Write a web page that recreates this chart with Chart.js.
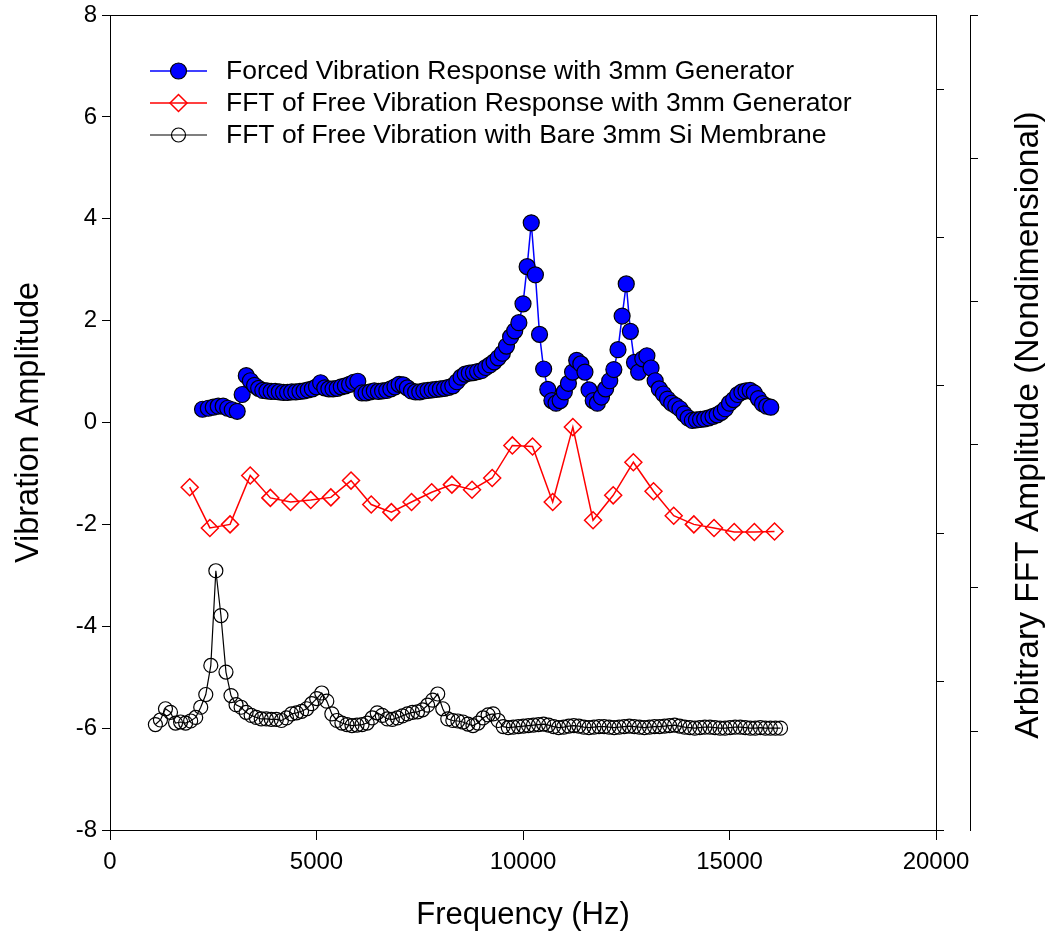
<!DOCTYPE html>
<html>
<head>
<meta charset="utf-8">
<title>Vibration Amplitude</title>
<script src="https://cdn.jsdelivr.net/npm/chart.js@4.4.1/dist/chart.umd.min.js"></script>
<style>
  body { margin: 0; background: #fff; }
</style>
</head>
<body>
<canvas id="myChart" width="1049" height="938"></canvas>
<script>
var seriesNames = [
  'Forced Vibration Response with 3mm Generator',
  'FFT of Free Vibration Response with 3mm Generator',
  'FFT of Free Vibration with Bare 3mm Si Membrane'
];

var forcedFreq = [2240, 2380, 2500, 2620, 2740, 2850, 2960, 3080,
  3200, 3300, 3400, 3500, 3600, 3700, 3800, 3900, 4000, 4100, 4200, 4300, 4400, 4500, 4600, 4700, 4800, 4900,
  5000, 5100, 5200, 5300, 5400, 5500, 5600, 5700, 5800, 5900, 6000, 6100, 6200, 6300, 6400, 6500, 6600, 6700, 6800, 6900,
  7000, 7100, 7200, 7300, 7400, 7500, 7600, 7700, 7800, 7900, 8000, 8100, 8200, 8300, 8400, 8500, 8600, 8700, 8800, 8900,
  9000, 9100, 9200, 9300, 9400, 9500, 9600, 9700, 9800, 9900, 10000, 10100, 10200, 10300, 10400, 10500, 10600, 10700, 10800, 10900,
  11000, 11100, 11200, 11300, 11400, 11500, 11600, 11700, 11800, 11900, 12000, 12100, 12200, 12300, 12400, 12500, 12600, 12700, 12800, 12900,
  13000, 13100, 13200, 13300, 13400, 13500, 13600, 13700, 13800, 13900, 14000, 14100, 14200, 14300, 14400, 14500, 14600, 14700, 14800, 14900,
  15000, 15100, 15200, 15300, 15400, 15500, 15600, 15700, 15800, 15900, 16000];
var forcedAmp = [0.26, 0.28, 0.30, 0.32, 0.32, 0.28, 0.25, 0.22,
  0.55, 0.92, 0.82, 0.73, 0.67, 0.63, 0.62, 0.61, 0.61, 0.60, 0.59, 0.59, 0.60, 0.60, 0.61, 0.62, 0.64, 0.66,
  0.70, 0.78, 0.68, 0.66, 0.66, 0.67, 0.70, 0.72, 0.75, 0.79, 0.81, 0.58, 0.58, 0.60, 0.62, 0.61, 0.62, 0.63, 0.66, 0.70,
  0.75, 0.74, 0.68, 0.62, 0.60, 0.60, 0.62, 0.63, 0.64, 0.65, 0.66, 0.67, 0.69, 0.72, 0.80, 0.89, 0.95, 0.97, 0.98, 1.00,
  1.02, 1.08, 1.13, 1.19, 1.27, 1.36, 1.50, 1.68, 1.80, 1.96, 2.33, 3.06, 3.92, 2.90, 1.73, 1.05, 0.65, 0.43, 0.38, 0.43,
  0.60, 0.77, 0.99, 1.22, 1.15, 0.99, 0.64, 0.43, 0.38, 0.50, 0.66, 0.82, 1.04, 1.43, 2.09, 2.72, 1.79, 1.18, 0.99, 1.25,
  1.31, 1.07, 0.82, 0.66, 0.56, 0.46, 0.38, 0.33, 0.27, 0.17, 0.09, 0.04, 0.05, 0.06, 0.07, 0.09, 0.12, 0.15, 0.20, 0.27,
  0.38, 0.45, 0.55, 0.60, 0.62, 0.63, 0.58, 0.47, 0.37, 0.32, 0.30];

var genFreq = [1930, 2418, 2907, 3395, 3883, 4371, 4860, 5348, 5836, 6325, 6813, 7301, 7789, 8278, 8766,
  9254, 9742, 10231, 10719, 11207, 11696, 12184, 12672, 13160, 13649, 14137, 14625, 15114, 15602, 16090];
var genAmp = [-1.27, -2.07, -2.00, -1.04, -1.48, -1.56, -1.52, -1.47, -1.14, -1.61, -1.76, -1.56, -1.37, -1.22, -1.32,
  -1.09, -0.45, -0.47, -1.56, -0.09, -1.92, -1.43, -0.78, -1.35, -1.83, -2.00, -2.07, -2.15, -2.15, -2.14];

var bareFreq = [1099, 1221, 1343, 1465, 1587, 1709, 1831, 1953, 2075, 2197, 2319, 2441, 2563, 2686, 2808, 2930,
  3052, 3174, 3296, 3418, 3540, 3662, 3784, 3906, 4028, 4150, 4272, 4395, 4517, 4639, 4761, 4883,
  5005, 5127, 5249, 5371, 5493, 5615, 5737, 5859, 5981, 6104, 6226, 6348, 6470, 6592, 6714, 6836, 6958,
  7080, 7202, 7324, 7446, 7568, 7690, 7813, 7935, 8057, 8179, 8301, 8423, 8545, 8667, 8789, 8911,
  9033, 9155, 9277, 9399, 9521, 9644, 9766, 9888, 10010, 10132, 10254, 10376, 10498, 10620, 10742, 10864, 10986,
  11108, 11230, 11353, 11475, 11597, 11719, 11841, 11963, 12085, 12207, 12329, 12451, 12573, 12695, 12817, 12939,
  13062, 13184, 13306, 13428, 13550, 13672, 13794, 13916, 14038, 14160, 14282, 14404, 14526, 14648, 14771, 14893,
  15015, 15137, 15259, 15381, 15503, 15625, 15747, 15869, 15991, 16113, 16235];
var bareAmp = [-5.93, -5.84, -5.62, -5.69, -5.90, -5.88, -5.90, -5.86, -5.79, -5.59, -5.34, -4.77, -2.91, -3.79, -4.90, -5.36,
  -5.54, -5.59, -5.69, -5.75, -5.79, -5.82, -5.82, -5.83, -5.83, -5.85, -5.80, -5.72, -5.70, -5.67, -5.62, -5.52,
  -5.42, -5.31, -5.47, -5.72, -5.85, -5.90, -5.93, -5.95, -5.94, -5.93, -5.90, -5.80, -5.70, -5.75, -5.82, -5.83, -5.80,
  -5.76, -5.72, -5.69, -5.68, -5.64, -5.55, -5.45, -5.33, -5.62, -5.82, -5.85, -5.86, -5.88, -5.92, -5.95, -5.90,
  -5.80, -5.74, -5.72, -5.85, -5.97, -5.99, -5.98, -5.97, -5.96, -5.95, -5.94, -5.93, -5.92, -5.94, -5.97, -5.99, -5.98,
  -5.96, -5.95, -5.96, -5.98, -5.99, -5.98, -5.97, -5.97, -5.98, -5.99, -5.98, -5.97, -5.96, -5.97, -5.98, -5.99,
  -5.98, -5.97, -5.97, -5.96, -5.95, -5.94, -5.96, -5.98, -5.99, -6.00, -5.99, -5.98, -5.98, -5.99, -6.00, -6.00,
  -5.99, -5.98, -5.98, -5.99, -6.00, -6.00, -5.99, -6.00, -6.00, -6.00, -6.00];

var xTickLabels = ['0', '5000', '10000', '15000', '20000'];
var yTickLabels = ['-8', '-6', '-4', '-2', '0', '2', '4', '6', '8'];
var rightTickValues = [0, 1, 2, 3, 4, 5];
var xTitle = 'Frequency (Hz)';
var yTitle = 'Vibration Amplitude';
var rightTitle = 'Arbitrary FFT Amplitude (Nondimensional)';

var fontFamily = '"Liberation Sans", Arial, sans-serif';

function toPoints(xs, ys)
{
  var pts = [];
  for (var i = 0; i < xs.length; i++) {
    pts.push({x: xs[i], y: ys[i]});
  }
  return pts;
}

function setRightTicks(scale)
{
  scale.ticks = rightTickValues.map(function(v){ return {value: v}; });
}

// legend sits inside the plot, line + marker + text
var insideLegend = {
  id: 'insideLegend',
  afterDraw: function(chart) {
    var ctx = chart.ctx;
    var area = chart.chartArea;
    ctx.save();
    chart.data.datasets.forEach(function(ds, i){
      var y = area.top + 56 + i * 32;
      var x0 = area.left + 40;
      ctx.strokeStyle = ds.borderColor;
      ctx.lineWidth = ds.borderWidth;
      ctx.beginPath();
      ctx.moveTo(x0, y);
      ctx.lineTo(x0 + 57, y);
      ctx.stroke();
      ctx.fillStyle = ds.pointBackgroundColor;
      ctx.strokeStyle = ds.pointBorderColor;
      ctx.lineWidth = ds.pointBorderWidth;
      Chart.helpers.drawPoint(ctx, {pointStyle: ds.pointStyle, radius: ds.pointRadius, borderWidth: ds.pointBorderWidth, rotation: 0}, x0 + 28.5, y);
      ctx.fillStyle = '#000';
      ctx.font = '26.5px ' + fontFamily;
      ctx.textBaseline = 'middle';
      ctx.textAlign = 'left';
      ctx.fillText(ds.label, x0 + 76, y + 1);
    });
    ctx.restore();
  }
};

// frame top and the far right axis title (reads bottom to top)
var frameAndTitle = {
  id: 'frameAndTitle',
  afterDraw: function(chart) {
    var ctx = chart.ctx;
    var area = chart.chartArea;
    ctx.save();
    ctx.strokeStyle = '#000';
    ctx.lineWidth = 1;
    ctx.beginPath();
    ctx.moveTo(area.left, area.top + 0.5);
    ctx.lineTo(area.right, area.top + 0.5);
    ctx.stroke();
    ctx.translate(1029, 425);
    ctx.rotate(-Math.PI / 2);
    ctx.fillStyle = '#000';
    ctx.font = '33.5px ' + fontFamily;
    ctx.textAlign = 'center';
    ctx.textBaseline = 'middle';
    ctx.fillText(rightTitle, 0, 0);
    ctx.restore();
  }
};

function fitLeft(s)
{
  s.width = 110;
  s.paddingTop = 0;
  s.paddingBottom = 0;
}

function showGraph()
{
  var ctx = document.getElementById('myChart').getContext('2d');
  Chart.defaults.font.family = fontFamily;
  Chart.defaults.color = '#000';

  var chart = new Chart(ctx, {
    type: 'line',
    data: {
      datasets: [{
        label: seriesNames[0],
        data: toPoints(forcedFreq, forcedAmp),
        borderColor: '#0000ff',
        borderWidth: 1.5,
        pointStyle: 'circle',
        pointRadius: 8,
        pointBackgroundColor: '#0000ff',
        pointBorderColor: '#000',
        pointBorderWidth: 1.2,
        fill: false
      }, {
        label: seriesNames[1],
        data: toPoints(genFreq, genAmp),
        borderColor: '#ff0000',
        borderWidth: 1.5,
        pointStyle: 'rectRot',
        pointRadius: 8.5,
        pointBackgroundColor: 'rgba(0,0,0,0)',
        pointBorderColor: '#ff0000',
        pointBorderWidth: 1.5,
        fill: false
      }, {
        label: seriesNames[2],
        data: toPoints(bareFreq, bareAmp),
        borderColor: '#000',
        borderWidth: 1.2,
        pointStyle: 'circle',
        pointRadius: 7,
        pointBackgroundColor: 'rgba(0,0,0,0)',
        pointBorderColor: '#000',
        pointBorderWidth: 1.2,
        fill: false
      }]
    },
    options: {
      responsive: false,
      animation: false,
      devicePixelRatio: 1,
      layout: {padding: {top: 15, left: 0, right: 0, bottom: 0}},
      plugins: {legend: {display: false}, tooltip: {enabled: false}},
      elements: {line: {tension: 0}},
      scales: {
        x: {
          type: 'linear',
          position: 'bottom',
          min: 0, max: 20000,
          afterFit: function(s){ s.height = 108; },
          ticks: {stepSize: 5000, padding: 8, font: {size: 24},
            callback: function(v, i){ return xTickLabels[i]; }},
          grid: {drawOnChartArea: false, drawTicks: true, tickLength: 10, color: '#000'},
          border: {display: true, color: '#000', width: 1},
          title: {display: true, text: xTitle, font: {size: 31}, padding: {top: 0, bottom: 4}}
        },
        y: {
          type: 'linear',
          position: 'left',
          min: -8, max: 8,
          afterFit: fitLeft,
          ticks: {stepSize: 2, padding: 5, font: {size: 24},
            callback: function(v, i){ return yTickLabels[i]; }},
          grid: {drawOnChartArea: false, drawTicks: true, tickLength: 8, color: '#000'},
          border: {display: true, color: '#000', width: 1},
          title: {display: true, text: yTitle, font: {size: 32.5}, padding: {top: 10, bottom: 0}}
        },
        y2: {
          type: 'linear',
          position: 'right',
          min: 0, max: 5.5,
          afterBuildTicks: setRightTicks,
          afterFit: function(s){ s.width = 34; },
          ticks: {display: false},
          grid: {drawOnChartArea: false, drawTicks: true, tickLength: 8, color: '#000'},
          border: {display: true, color: '#000', width: 1}
        },
        y3: {
          type: 'linear',
          position: 'right',
          min: -0.69, max: 5,
          afterBuildTicks: setRightTicks,
          afterFit: function(s){ s.width = 79; },
          ticks: {display: false},
          grid: {drawOnChartArea: false, drawTicks: true, tickLength: 8, color: '#000'},
          border: {display: true, color: '#000', width: 1}
        }
      }
    },
    plugins: [insideLegend, frameAndTitle]
  });
  return chart;
}

showGraph();
</script>
</body>
</html>
